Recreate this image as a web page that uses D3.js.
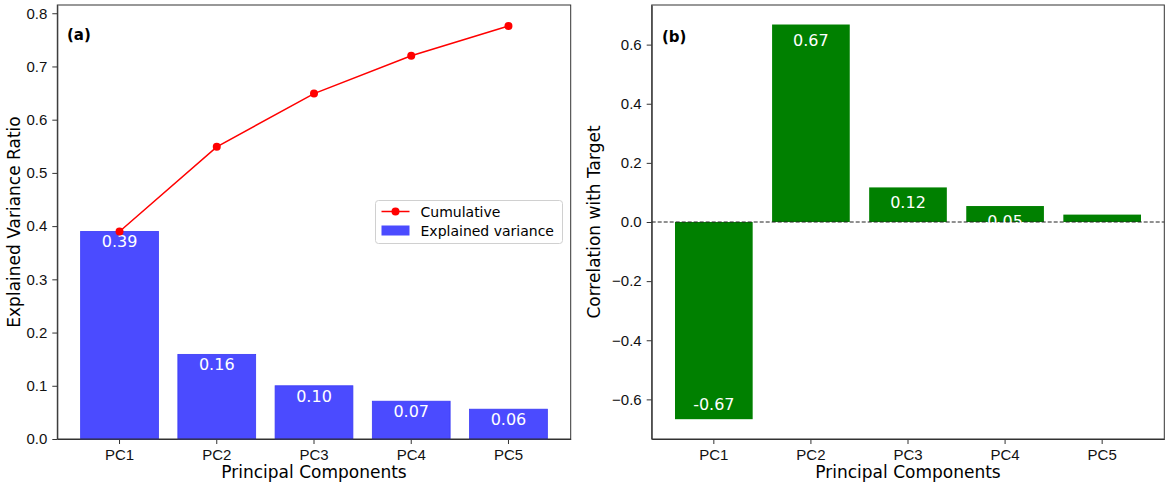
<!DOCTYPE html>
<html>
<head>
<meta charset="utf-8">
<script src="https://cdn.jsdelivr.net/npm/d3@7"></script>
<style>
  body { margin: 0; background: #fff; }
  svg { font-family: "DejaVu Sans", sans-serif; }
  .axis path, .axis line { stroke: #333; }
  .axis text { fill: #111; font-size: 15px; }
</style>
</head>
<body>
<svg id="chart" width="1170" height="485"></svg>
<script>
var components = ["PC1", "PC2", "PC3", "PC4", "PC5"];
var explained = [0.390, 0.159, 0.100, 0.071, 0.056];
var cumulative = [0.390, 0.549, 0.649, 0.720, 0.776];
var correlation = [-0.667, 0.668, 0.117, 0.054, 0.025];
var ticksA = [0.0, 0.1, 0.2, 0.3, 0.4, 0.5, 0.6, 0.7, 0.8];
var ticksB = [-0.6, -0.4, -0.2, 0.0, 0.2, 0.4, 0.6];

var svg = d3.select("#chart");
var top0 = 5, bottom0 = 439;

function fmt(v) { return d3.format(".1f")(v).replace("-", "\u2212"); }

// panel (a)
var xa = d3.scaleBand().domain(components).range([57.3, 570.7])
    .paddingInner(0.2).paddingOuter(0.24);
var ya = d3.scaleLinear().domain([0, 0.8155]).range([bottom0, top0]);

var ga = svg.append("g");
ga.append("g")
    .attr("class", "axis")
    .attr("transform", "translate(0," + bottom0 + ")")
    .call(d3.axisBottom(xa).tickSize(5).tickPadding(5).tickSizeOuter(0));
ga.append("g")
    .attr("class", "axis")
    .attr("transform", "translate(57.3,0)")
    .call(d3.axisLeft(ya).tickValues(ticksA).tickFormat(fmt).tickSize(5).tickPadding(5).tickSizeOuter(0));

ga.selectAll(".bar")
    .data(explained)
    .enter().append("rect")
    .attr("x", function(d, i) { return xa(components[i]); })
    .attr("y", function(d) { return ya(d); })
    .attr("width", xa.bandwidth())
    .attr("height", function(d) { return bottom0 - ya(d); })
    .attr("fill", "#4b4bff")
    .attr("stroke", "#3a3af5")
    .attr("stroke-width", 0.8);

ga.selectAll(".barlabel")
    .data(explained)
    .enter().append("text")
    .attr("x", function(d, i) { return xa(components[i]) + xa.bandwidth() / 2; })
    .attr("y", function(d) { return ya(d) + 16; })
    .attr("text-anchor", "middle")
    .attr("fill", "#fff")
    .style("font-size", "16px")
    .text(function(d) { return d.toFixed(2); });

var line = d3.line()
    .x(function(d, i) { return xa(components[i]) + xa.bandwidth() / 2; })
    .y(function(d) { return ya(d); });
ga.append("path")
    .datum(cumulative)
    .attr("d", line)
    .attr("fill", "none")
    .attr("stroke", "#ff0000")
    .attr("stroke-width", 1.5);
ga.selectAll(".dot")
    .data(cumulative)
    .enter().append("circle")
    .attr("cx", function(d, i) { return xa(components[i]) + xa.bandwidth() / 2; })
    .attr("cy", function(d) { return ya(d); })
    .attr("r", 4)
    .attr("fill", "#ff0000");

ga.append("rect")
    .attr("x", 57.3).attr("y", top0)
    .attr("width", 570.7 - 57.3).attr("height", bottom0 - top0)
    .attr("fill", "none").attr("stroke", "#333").attr("stroke-width", 1);

ga.append("text")
    .attr("x", 67).attr("y", 40)
    .style("font-size", "15px").style("font-weight", "bold")
    .text("(a)");

ga.append("text")
    .attr("transform", "translate(20," + ((top0 + bottom0) / 2) + ") rotate(-90)")
    .attr("text-anchor", "middle")
    .style("font-size", "17px")
    .text("Explained Variance Ratio");
ga.append("text")
    .attr("x", (57.3 + 570.7) / 2).attr("y", 478)
    .attr("text-anchor", "middle")
    .style("font-size", "17px")
    .text("Principal Components");

// legend
var lg = ga.append("g").attr("transform", "translate(375.5,200.5)");
lg.append("rect")
    .attr("width", 187).attr("height", 43).attr("rx", 3)
    .attr("fill", "#fff").attr("fill-opacity", 0.8)
    .attr("stroke", "#d0d0d0");
lg.append("line")
    .attr("x1", 6).attr("x2", 34).attr("y1", 11).attr("y2", 11)
    .attr("stroke", "#ff0000").attr("stroke-width", 1.5);
lg.append("circle").attr("cx", 20).attr("cy", 11).attr("r", 4).attr("fill", "#ff0000");
lg.append("text").attr("x", 45).attr("y", 16).style("font-size", "14px").text("Cumulative");
lg.append("rect")
    .attr("x", 6).attr("y", 25).attr("width", 28).attr("height", 10)
    .attr("fill", "#4b4bff");
lg.append("text").attr("x", 45).attr("y", 35).style("font-size", "14px").text("Explained variance");

// panel (b)
var xb = d3.scaleBand().domain(components).range([651.7, 1164.3])
    .paddingInner(0.2).paddingOuter(0.24);
var yb = d3.scaleLinear().domain([-0.734, 0.734]).range([bottom0, top0]);

var gb = svg.append("g");
gb.append("g")
    .attr("class", "axis")
    .attr("transform", "translate(0," + bottom0 + ")")
    .call(d3.axisBottom(xb).tickSize(5).tickPadding(5).tickSizeOuter(0));
gb.append("g")
    .attr("class", "axis")
    .attr("transform", "translate(651.7,0)")
    .call(d3.axisLeft(yb).tickValues(ticksB).tickFormat(fmt).tickSize(5).tickPadding(5).tickSizeOuter(0));

gb.selectAll(".bar")
    .data(correlation)
    .enter().append("rect")
    .attr("x", function(d, i) { return xb(components[i]); })
    .attr("y", function(d) { return yb(Math.max(0, d)); })
    .attr("width", xb.bandwidth())
    .attr("height", function(d) { return Math.abs(yb(d) - yb(0)); })
    .attr("fill", "#008000");

gb.append("line")
    .attr("x1", 651.7).attr("x2", 1164.3)
    .attr("y1", yb(0)).attr("y2", yb(0))
    .attr("stroke", "#222").attr("stroke-width", 1)
    .attr("stroke-dasharray", "4,2");

gb.selectAll(".barlabel")
    .data(correlation)
    .enter().append("text")
    .attr("x", function(d, i) { return xb(components[i]) + xb.bandwidth() / 2; })
    .attr("y", function(d) { return d >= 0 ? yb(d) + 21 : yb(d) - 9; })
    .attr("text-anchor", "middle")
    .attr("fill", "#fff")
    .style("font-size", "16px")
    .text(function(d) { return d.toFixed(2); });

gb.append("rect")
    .attr("x", 651.7).attr("y", top0)
    .attr("width", 1164.3 - 651.7).attr("height", bottom0 - top0)
    .attr("fill", "none").attr("stroke", "#333").attr("stroke-width", 1);

gb.append("text")
    .attr("x", 662).attr("y", 42)
    .style("font-size", "15px").style("font-weight", "bold")
    .text("(b)");

gb.append("text")
    .attr("transform", "translate(600," + ((top0 + bottom0) / 2) + ") rotate(-90)")
    .attr("text-anchor", "middle")
    .style("font-size", "17px")
    .text("Correlation with Target");
gb.append("text")
    .attr("x", (651.7 + 1164.3) / 2).attr("y", 478)
    .attr("text-anchor", "middle")
    .style("font-size", "17px")
    .text("Principal Components");
</script>
</body>
</html>
